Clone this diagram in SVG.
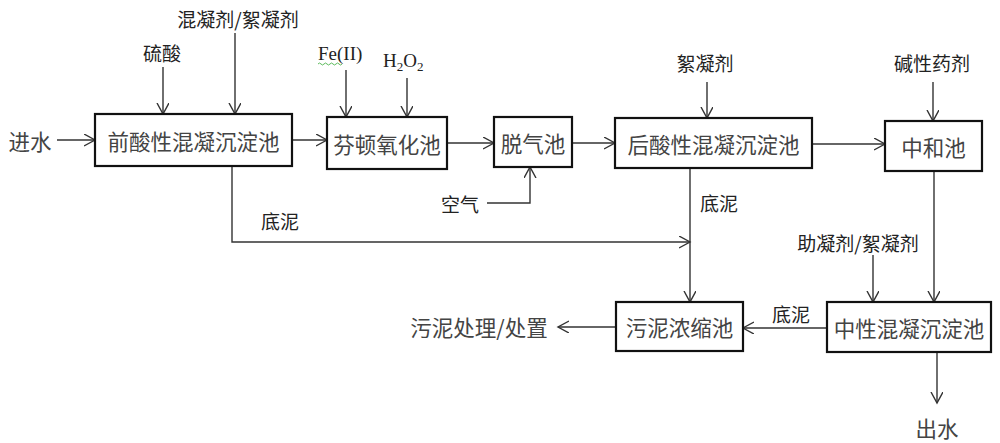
<svg xmlns="http://www.w3.org/2000/svg" width="1000" height="443" viewBox="0 0 1000 443">
<style>
.box{fill:#fff;stroke:#111;stroke-width:2.2}
.bt{font-family:"Noto Sans CJK SC",sans-serif;font-size:21.5px;fill:#444;text-anchor:middle;dominant-baseline:central}
.lb{font-family:"Noto Sans CJK SC",sans-serif;font-size:19px;fill:#222;text-anchor:middle;dominant-baseline:central}
.lbs{font-family:"Noto Sans CJK SC",sans-serif;font-size:21.5px;fill:#444;text-anchor:middle;dominant-baseline:central}
.tm{font-family:"Liberation Serif",serif;font-size:19px;fill:#222}
.ln{fill:none;stroke:#333;stroke-width:1.4;marker-end:url(#ah)}
</style>
<defs>
<marker id="ah" markerUnits="userSpaceOnUse" markerWidth="14" markerHeight="14" refX="11" refY="6" orient="auto">
<path d="M0,0 L11,6 L0,12" fill="none" stroke="#333" stroke-width="1.4"/>
</marker>
</defs>
<rect width="1000" height="443" fill="#fff"/>
<g id="connectors">
<path class="ln" d="M57,140 H95"/>
<path class="ln" d="M163,67 V114"/>
<path class="ln" d="M235,33 V114"/>
<path class="ln" d="M292,140 H327"/>
<path class="ln" d="M346,70 V117"/>
<path class="ln" d="M407,78 V117"/>
<path class="ln" d="M447,143 H494"/>
<path class="ln" d="M572,143 H615"/>
<path class="ln" d="M487,203 H530 V167"/>
<path class="ln" d="M707,82 V118"/>
<path class="ln" d="M812,144 H885"/>
<path class="ln" d="M933,82 V121"/>
<path class="ln" d="M934,171 V302"/>
<path class="ln" d="M873,255 V302"/>
<path class="ln" d="M937,352 V403"/>
<path class="ln" d="M827,328 H743"/>
<path class="ln" d="M232,166 V242 H690"/>
<path class="ln" d="M690,168 V302"/>
<path class="ln" d="M616,327 H558"/>
</g>
<g id="labels">
<text class="lbs" x="30" y="140">进水</text>
<text class="lb" x="162" y="52">硫酸</text>
<text class="lb" x="238" y="18">混凝剂/絮凝剂</text>
<text class="tm" x="318" y="60">Fe(II)</text>
<path d="M318,64 q1.5,-2 3,0 t3,0 t3,0 t3,0 t3,0 t3,0 t3,0 t3,0" fill="none" stroke="#3a3" stroke-width="0.8"/>
<text class="tm" x="383" y="67">H<tspan font-size="13" dy="4">2</tspan><tspan dy="-4">O</tspan><tspan font-size="13" dy="4">2</tspan></text>
<text class="lb" x="705" y="62">絮凝剂</text>
<text class="lb" x="932" y="62">碱性药剂</text>
<text class="lb" x="460" y="203">空气</text>
<text class="lb" x="280" y="220">底泥</text>
<text class="lb" x="719" y="202">底泥</text>
<text class="lb" x="858" y="242">助凝剂/絮凝剂</text>
<text class="lb" x="791" y="313">底泥</text>
<text class="lbs" x="479" y="326">污泥处理/处置</text>
<text class="lbs" x="937" y="427">出水</text>
</g>
<g id="n1"><rect class="box" x="95" y="114" width="197" height="52"/><text class="bt" x="193.5" y="140">前酸性混凝沉淀池</text></g>
<g id="n2"><rect class="box" x="327" y="117" width="120" height="52"/><text class="bt" x="387" y="143">芬顿氧化池</text></g>
<g id="n3"><rect class="box" x="494" y="117" width="78" height="50"/><text class="bt" x="533" y="142">脱气池</text></g>
<g id="n4"><rect class="box" x="615" y="118" width="197" height="50"/><text class="bt" x="713.5" y="143">后酸性混凝沉淀池</text></g>
<g id="n5"><rect class="box" x="885" y="121" width="97" height="50"/><text class="bt" x="933.5" y="146">中和池</text></g>
<g id="n6"><rect class="box" x="827" y="302" width="164" height="50"/><text class="bt" x="909" y="327">中性混凝沉淀池</text></g>
<g id="n7"><rect class="box" x="616" y="302" width="127" height="49"/><text class="bt" x="679.5" y="326.5">污泥浓缩池</text></g>
</svg>
